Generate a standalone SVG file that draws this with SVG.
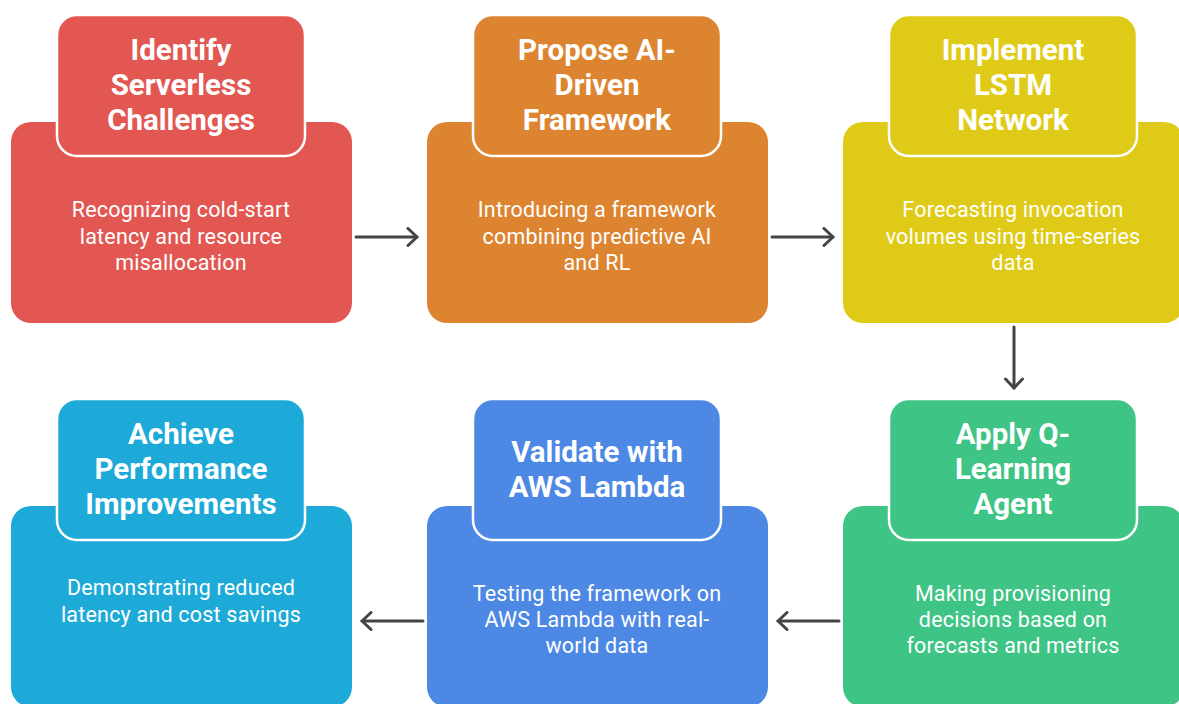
<svg xmlns="http://www.w3.org/2000/svg" width="1179" height="704" viewBox="0 0 1179 704">
<defs>
<style>
.t{font-family:Roboto,"Liberation Sans",sans-serif;font-weight:bold;font-size:29.5px;fill:#fff;text-anchor:middle}
.b{font-family:Roboto,"Liberation Sans",sans-serif;font-size:21.5px;fill:#fff;text-anchor:middle;letter-spacing:0.2px}
.hd{stroke:#fff;stroke-width:2.5}
.c{fill:none;stroke:#444;stroke-width:3;stroke-linecap:round;stroke-linejoin:round}
</style>
<marker id="ah" viewBox="0 0 20 20" refX="11" refY="10" markerWidth="20" markerHeight="20" markerUnits="userSpaceOnUse" orient="auto">
<path d="M2,1.5 L11,10 L2,18.5" fill="none" stroke="#444" stroke-width="3" stroke-linecap="round" stroke-linejoin="round"/>
</marker>
</defs>
<rect width="1179" height="704" fill="#fff"/>
<g id="n1">
<rect x="11" y="122" width="341" height="201" rx="20" fill="#E35752"/>
<rect x="57" y="15" width="248" height="141" rx="20" fill="#E35752" class="hd"/>
<text class="t" x="181" y="60">Identify</text>
<text class="t" x="181" y="95">Serverless</text>
<text class="t" x="181" y="130">Challenges</text>
<text class="b" x="181" y="217">Recognizing cold-start</text>
<text class="b" x="181" y="244">latency and resource</text>
<text class="b" x="181" y="270">misallocation</text>
</g>
<g id="n2">
<rect x="427" y="122" width="341" height="201" rx="20" fill="#DD8431"/>
<rect x="473" y="15" width="248" height="141" rx="20" fill="#DD8431" class="hd"/>
<text class="t" x="597" y="60">Propose AI-</text>
<text class="t" x="597" y="95">Driven</text>
<text class="t" x="597" y="130">Framework</text>
<text class="b" x="597" y="217">Introducing a framework</text>
<text class="b" x="597" y="244">combining predictive AI</text>
<text class="b" x="597" y="270">and RL</text>
</g>
<g id="n3">
<rect x="843" y="122" width="341" height="201" rx="20" fill="#DFCB17"/>
<rect x="889" y="15" width="248" height="141" rx="20" fill="#DFCB17" class="hd"/>
<text class="t" x="1013" y="60">Implement</text>
<text class="t" x="1013" y="95">LSTM</text>
<text class="t" x="1013" y="130">Network</text>
<text class="b" x="1013" y="217">Forecasting invocation</text>
<text class="b" x="1013" y="244">volumes using time-series</text>
<text class="b" x="1013" y="270">data</text>
</g>
<g id="n4">
<rect x="843" y="506" width="341" height="201" rx="20" fill="#3EC484"/>
<rect x="889" y="399" width="248" height="141" rx="20" fill="#3EC484" class="hd"/>
<text class="t" x="1013" y="444">Apply Q-</text>
<text class="t" x="1013" y="479">Learning</text>
<text class="t" x="1013" y="514">Agent</text>
<text class="b" x="1013" y="601">Making provisioning</text>
<text class="b" x="1013" y="627">decisions based on</text>
<text class="b" x="1013" y="653">forecasts and metrics</text>
</g>
<g id="n5">
<rect x="427" y="506" width="341" height="201" rx="20" fill="#4C88E4"/>
<rect x="473" y="399" width="248" height="141" rx="20" fill="#4C88E4" class="hd"/>
<text class="t" x="597" y="462">Validate with</text>
<text class="t" x="597" y="497">AWS Lambda</text>
<text class="b" x="597" y="601">Testing the framework on</text>
<text class="b" x="597" y="627">AWS Lambda with real-</text>
<text class="b" x="597" y="653">world data</text>
</g>
<g id="n6">
<rect x="11" y="506" width="341" height="201" rx="20" fill="#1EAAD8"/>
<rect x="57" y="399" width="248" height="141" rx="20" fill="#1EAAD8" class="hd"/>
<text class="t" x="181" y="444">Achieve</text>
<text class="t" x="181" y="479">Performance</text>
<text class="t" x="181" y="514">Improvements</text>
<text class="b" x="181" y="595">Demonstrating reduced</text>
<text class="b" x="181" y="622">latency and cost savings</text>
</g>
<g id="connectors">
<line class="c" x1="356" y1="237" x2="417" y2="237" marker-end="url(#ah)"/>
<line class="c" x1="772" y1="237" x2="833" y2="237" marker-end="url(#ah)"/>
<line class="c" x1="1014" y1="327" x2="1014" y2="388" marker-end="url(#ah)"/>
<line class="c" x1="839" y1="621" x2="778" y2="621" marker-end="url(#ah)"/>
<line class="c" x1="423" y1="621" x2="362" y2="621" marker-end="url(#ah)"/>
</g>
</svg>
